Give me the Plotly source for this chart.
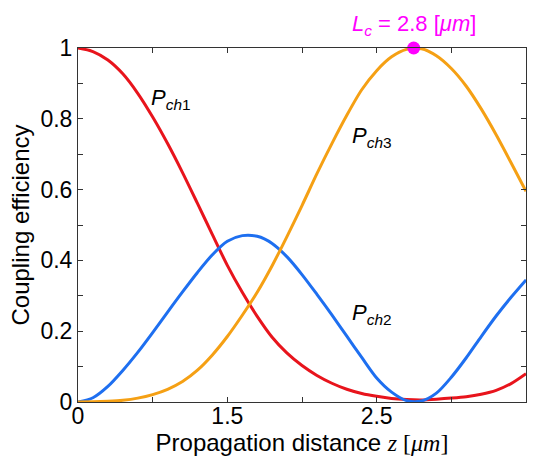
import plotly.graph_objects as go

# Propagation distance (axis units as drawn; left edge labelled "0")
z = [0.5, 0.6, 0.7, 0.8, 0.9, 1.0, 1.1, 1.2, 1.3, 1.4, 1.5, 1.6, 1.7, 1.8, 1.9,
     2.0, 2.1, 2.2, 2.3, 2.4, 2.5, 2.6, 2.7, 2.8, 2.9, 3.0, 3.1, 3.2, 3.3, 3.4, 3.5]

p_ch1 = [1.0, 0.99, 0.966, 0.927, 0.872, 0.805, 0.73, 0.648, 0.561, 0.473, 0.386,
         0.31, 0.242, 0.183, 0.138, 0.103, 0.075, 0.053, 0.036, 0.024, 0.016, 0.01,
         0.007, 0.006, 0.008, 0.011, 0.015, 0.022, 0.033, 0.052, 0.08]

p_ch2 = [0.0, 0.012, 0.044, 0.089, 0.14, 0.196, 0.254, 0.311, 0.366, 0.416, 0.454,
         0.47, 0.468, 0.448, 0.41, 0.36, 0.304, 0.246, 0.186, 0.126, 0.068, 0.028,
         0.004, 0.003, 0.025, 0.07, 0.125, 0.185, 0.243, 0.296, 0.345]

p_ch3 = [0.0, 0.0004, 0.002, 0.005, 0.011, 0.021, 0.036, 0.058, 0.09, 0.133, 0.185,
         0.245, 0.31, 0.385, 0.468, 0.555, 0.645, 0.73, 0.81, 0.882, 0.936, 0.975,
         0.996, 0.998, 0.978, 0.942, 0.892, 0.828, 0.755, 0.676, 0.595]

lc_z = [2.748]
lc_p = [1.0]

x_tickvals = [0.5, 1.5, 2.5, 3.5]
x_ticktext = ["0", "1.5", "2.5", "3.5"]
y_tickvals = [0.0, 0.2, 0.4, 0.6, 0.8, 1.0]
y_ticktext = ["0", "0.2", "0.4", "0.6", "0.8", "1"]

RED = "#e8141c"
BLUE = "#1e6ff0"
ORANGE = "#f5a014"
MAGENTA = "#ff00ff"
FONT = "Liberation Sans, Arial, sans-serif"
SERIF = "Liberation Serif, Times New Roman, serif"

fig = go.Figure()
for vals, col in ((p_ch1, RED), (p_ch2, BLUE), (p_ch3, ORANGE)):
    fig.add_trace(go.Scatter(x=z, y=vals, mode="lines",
                             line=dict(color=col, width=3, shape="spline", smoothing=0.8),
                             cliponaxis=False, showlegend=False))
fig.add_trace(go.Scatter(x=lc_z, y=lc_p, mode="markers", marker=dict(color=MAGENTA, size=13),
                         cliponaxis=False, showlegend=False))

lab_font = dict(family=FONT, size=22, color="black")
fig.add_annotation(x=0.975, y=0.855, xref="x", yref="y", showarrow=False, xanchor="left", yanchor="middle",
                   text="<i>P</i><sub><i>ch</i>1</sub>", font=lab_font)
fig.add_annotation(x=2.32, y=0.748, xref="x", yref="y", showarrow=False, xanchor="left", yanchor="middle",
                   text="<i>P</i><sub><i>ch</i>3</sub>", font=lab_font)
fig.add_annotation(x=2.32, y=0.248, xref="x", yref="y", showarrow=False, xanchor="left", yanchor="middle",
                   text="<i>P</i><sub><i>ch</i>2</sub>", font=lab_font)
fig.add_annotation(x=lc_z[0], y=1.0, xref="x", yref="y", showarrow=False, xanchor="center", yanchor="bottom",
                   yshift=7,
                   text="<i>L</i><sub><i>c</i></sub> = 2.8 [<i>μm</i>]",
                   font=dict(family=FONT, size=22, color=MAGENTA))

axis_common = dict(showline=True, linecolor="#333333", linewidth=1, mirror="allticks",
                   ticks="inside", ticklen=5, tickcolor="#333333", showgrid=False, zeroline=False,
                   tickfont=dict(family=FONT, size=23, color="black"))

fig.update_xaxes(range=[0.5, 3.5], tickmode="array", tickvals=x_tickvals, ticktext=x_ticktext,
                 minor=dict(ticks="inside", ticklen=5, tickcolor="#333333", tick0=0.5, dtick=0.5, showgrid=False),
                 ticklabelstandoff=-7,
                 title=dict(text='Propagation distance <span style="font-family:' + SERIF + '"><i>z</i> [<i>μm</i>]</span>',
                            font=dict(family=FONT, size=24, color="black"), standoff=2),
                 **axis_common)
fig.update_yaxes(range=[0, 1], tickmode="array", tickvals=y_tickvals, ticktext=y_ticktext,
                 minor=dict(ticks="inside", ticklen=5, tickcolor="#333333", tick0=0, dtick=0.1, showgrid=False),
                 title=dict(text="Coupling efficiency", font=dict(family=FONT, size=24, color="black"),
                            standoff=4),
                 **axis_common)

fig.update_layout(width=539, height=456, margin=dict(l=77.5, r=12.5, t=48.3, b=53.7, autoexpand=False),
                  paper_bgcolor="white", plot_bgcolor="white")

fig.write_html("out.html")
